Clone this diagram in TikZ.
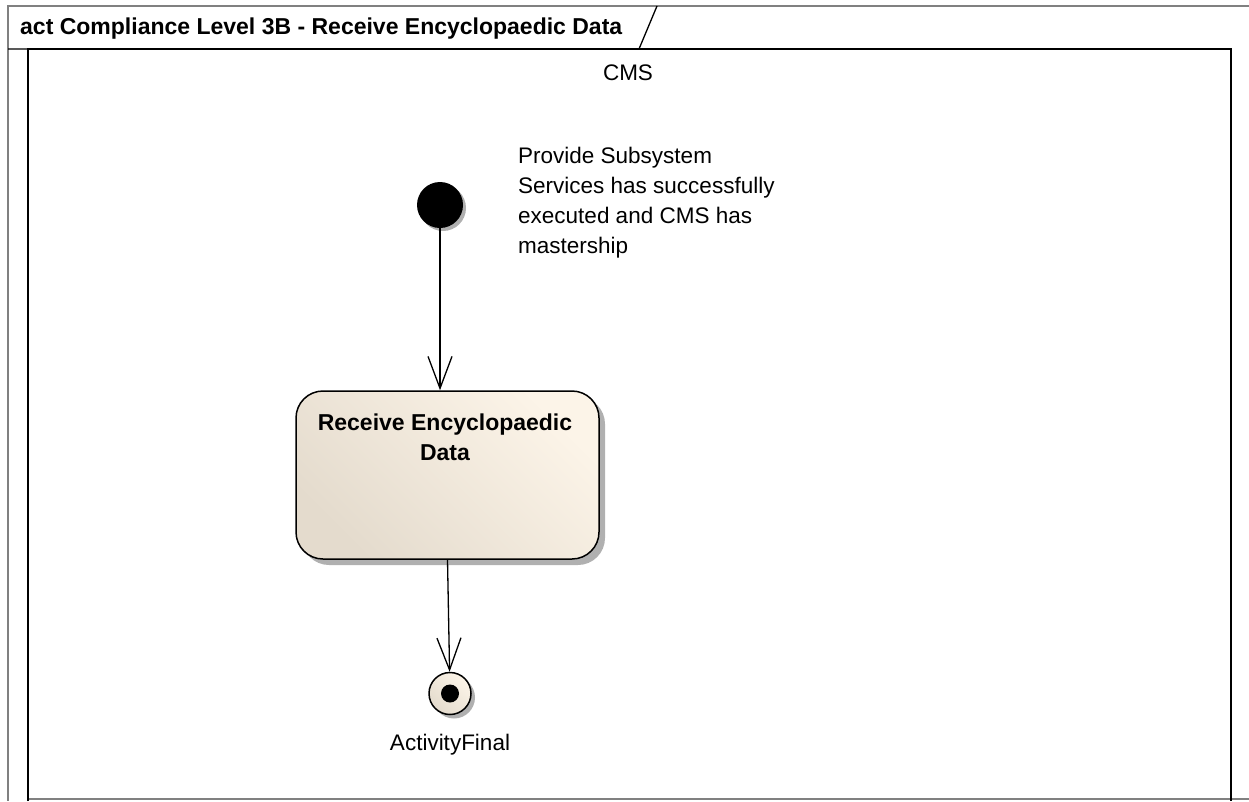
\documentclass[tikz,border=0pt]{standalone}
\usepackage{fontspec}
\setmainfont{Liberation Sans}
\usetikzlibrary{arrows.meta,shadows}
\definecolor{framegray}{RGB}{128,128,128}
\definecolor{actlight}{RGB}{252,244,232}
\definecolor{actdark}{RGB}{228,219,205}
\definecolor{shadowgray}{RGB}{176,176,176}

\begin{document}
\begin{tikzpicture}[x=1pt, y=-1pt,
    flow/.style={-{Straight Barb[length=32pt,width=24pt]}, line width=1.3pt},
    regtext/.style={font=\fontsize{22.5}{30}\selectfont, inner sep=0pt},
    boldtext/.style={font=\fontsize{23}{29.5}\selectfont\bfseries, inner sep=0pt},
    beige/.style={top color=actlight, bottom color=actdark, shading angle=-45}]
      \useasboundingbox (0,0) rectangle (1249,801);

      \draw [framegray, line width=1.5pt] (1249,6) -- (8,6) -- (8,801);
      \draw [framegray, line width=1.5pt] (28,799) -- (1249,799);
      \draw [line width=1.3pt] (8,49) -- (639,49) -- (657,6);
      \draw [line width=2pt] (28,801) -- (28,49) -- (1231,49) -- (1231,801);
      \node [boldtext, anchor=base west] (title) at (20,34) {act Compliance Level 3B - Receive Encyclopaedic Data};
      \node [regtext, anchor=base]       (cms)   at (628,80) {CMS};

      \node [circle, fill=black, minimum size=46pt, inner sep=0pt,
             drop shadow={shadow xshift=3pt, shadow yshift=-3pt, fill=shadowgray, opacity=1}] (init) at (440,205) {};
      \node [regtext, anchor=north west, align=left] (cond) at (518,147)
            {Provide Subsystem\\ Services has successfully\\ executed and CMS has\\ mastership};

      \node [rectangle, rounded corners=27pt, minimum width=303pt, minimum height=168pt, draw, line width=1.5pt, beige,
             drop shadow={shadow xshift=6pt, shadow yshift=-6pt, fill=shadowgray, opacity=1}] (act) at (447.5,475) {};
      \node [boldtext, anchor=north, align=center] (actlbl) at (445,414) {Receive Encyclopaedic\\ Data};

      \node [circle, draw, line width=1.5pt, minimum size=42pt, inner sep=0pt, beige,
             drop shadow={shadow xshift=4pt, shadow yshift=-4pt, fill=shadowgray, opacity=1}] (fin) at (450,693.5) {};
      \node [circle, fill=black, minimum size=18pt, inner sep=0pt] (findot) at (fin) {};
      \node [regtext, anchor=base] (finlbl) at (450,750) {ActivityFinal};

      \draw [flow] (init) -- (init |- act.north);
      \draw [flow] (act.south) -- (fin);
\end{tikzpicture}
\end{document}
